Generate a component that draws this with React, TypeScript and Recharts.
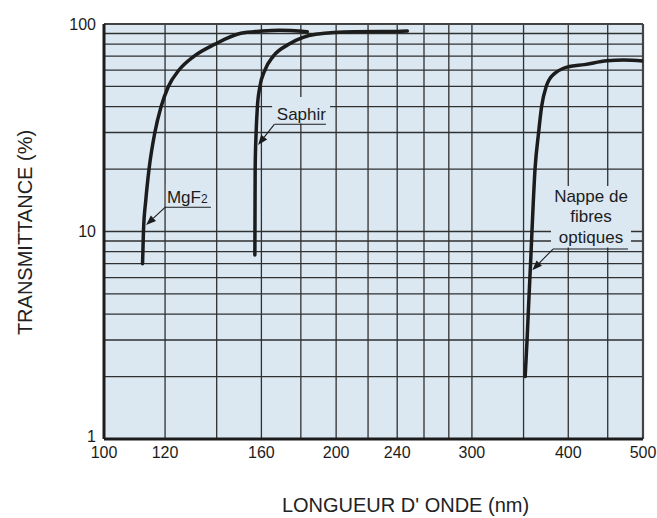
import React from 'react';
import { LineChart, Line, XAxis, YAxis, CartesianGrid, ReferenceArea, ReferenceLine } from 'recharts';

const FONT = '"Liberation Sans", Arial, Helvetica, sans-serif';
const BG = '#dbe8f2';
const INK = '#1c1c1c';
const GRID = '#303030';

// Axis ticks and grid values
const wavelengthTicks = [100, 120, 160, 200, 240, 300, 400, 500];
const transmittanceTicks = [1, 10, 100];
const gridWavelengths = [120, 140, 160, 180, 200, 220, 240, 260, 280, 300, 350, 400, 450];
const gridTransmittances = [2, 3, 4, 5, 6, 7, 8, 9, 10, 20, 30, 40, 50, 60, 70, 80, 90];

// MgF2
const mgf2Wavelength = [112.2, 112.5, 113.3, 114.4, 116.4, 118.6, 121.2, 125.1, 130.9, 139.3, 150.5, 160.6, 168.8, 183.5];
const mgf2Transmittance = [7.0, 10, 14.2, 20, 30, 40, 50, 60, 70, 80, 90.2, 92.5, 93.2, 91.8];

// Saphir
const saphirWavelength = [156.9, 156.95, 157.05, 157.5, 158.1, 159.3, 161.7, 165.8, 173.8, 188.3, 211.0, 240.0, 247.4];
const saphirTransmittance = [7.7, 10, 20, 30, 40, 50, 60, 70, 80, 89.2, 91.8, 92.1, 92.5];

// Nappe de fibres optiques
const fibreWavelength = [351.7, 353.7, 354.9, 356.7, 357.4, 358.9, 362.2, 366.1, 369.4, 374.5, 377.6, 384.1, 394.4, 400, 419.7, 449, 472, 500];
const fibreTransmittance = [2, 3, 4, 6, 7, 10, 20, 30, 40, 50, 53.7, 57.8, 61.2, 62.2, 63.7, 66.5, 67.0, 66.3];

const toPoints = (wl: number[], t: number[]) => wl.map((w, i) => ({ wl: w, t: t[i] }));
const mgf2Data = toPoints(mgf2Wavelength, mgf2Transmittance);
const saphirData = toPoints(saphirWavelength, saphirTransmittance);
const fibreData = toPoints(fibreWavelength, fibreTransmittance);

function ArrowShape(props: any) {
  const { x1, y1, x2, y2 } = props;
  if ([x1, y1, x2, y2].some((v) => typeof v !== 'number' || isNaN(v))) return <g />;
  const a = Math.atan2(y2 - y1, x2 - x1);
  const len = 10;
  const half = 3.8;
  const bx = x2 - len * Math.cos(a);
  const by = y2 - len * Math.sin(a);
  const nx = -Math.sin(a);
  const ny = Math.cos(a);
  const pts = `${x2},${y2} ${bx + half * nx},${by + half * ny} ${bx - half * nx},${by - half * ny}`;
  return (
    <g>
      <line x1={x1} y1={y1} x2={bx} y2={by} stroke={INK} strokeWidth={1.1} />
      <polygon points={pts} fill={INK} />
    </g>
  );
}

const textStyle = { fontFamily: FONT, fontSize: 17, fill: INK } as const;

const mgf2Label = (p: any) => {
  const vb = p.viewBox || {};
  return (
    <text x={vb.x + 1} y={vb.y + vb.height - 3} style={textStyle}>
      MgF<tspan fontSize={12}>2</tspan>
    </text>
  );
};

const saphirLabel = (p: any) => {
  const vb = p.viewBox || {};
  return (
    <text x={vb.x + 4.7} y={vb.y + vb.height - 3.5} style={textStyle}>
      Saphir
    </text>
  );
};

const fibreLabel = (p: any) => {
  const vb = p.viewBox || {};
  const cx = vb.x + vb.width / 2;
  return (
    <text textAnchor="middle" style={textStyle}>
      <tspan x={cx} y={vb.y + 15.7}>Nappe de</tspan>
      <tspan x={cx} y={vb.y + 36.2}>fibres</tspan>
      <tspan x={cx} y={vb.y + 56.7}>optiques</tspan>
    </text>
  );
};

const xTitle = (p: any) => {
  const vb = p.viewBox || {};
  return (
    <text x={vb.x + vb.width / 2 + 32} y={vb.y + 73} textAnchor="middle" style={{ fontFamily: FONT, fontSize: 20, fill: '#222' }}>
      LONGUEUR D' ONDE (nm)
    </text>
  );
};

const yTitle = (p: any) => {
  const vb = p.viewBox || {};
  const x = vb.x + 32;
  const y = vb.y + vb.height / 2 + 1;
  return (
    <text x={x} y={y} textAnchor="middle" transform={`rotate(-90, ${x}, ${y})`} style={{ fontFamily: FONT, fontSize: 20, fill: '#222' }}>
      TRANSMITTANCE (%)
    </text>
  );
};

const YTick = (p: any) => {
  const v = p.payload ? p.payload.value : '';
  const lift = v === 1 ? -2.5 : 0;
  return (
    <text x={p.x} y={p.y + lift} dy="0.355em" textAnchor="end" style={{ fontFamily: FONT, fontSize: 16, fill: INK }}>
      {v}
    </text>
  );
};

export default function App() {
  return (
    <div style={{ position: 'absolute', left: 0, top: 0, width: 657, height: 518, background: '#fff' }}>
      <LineChart width={657} height={518} margin={{ top: 24, right: 14, bottom: 49, left: 0 }}>
        <CartesianGrid
          fill={BG}
          fillOpacity={1}
          stroke={GRID}
          strokeWidth={1.3}
          horizontalValues={gridTransmittances}
          verticalValues={gridWavelengths}
        />
        <XAxis
          type="number"
          dataKey="wl"
          scale="log"
          domain={[100, 500]}
          allowDataOverflow
          ticks={wavelengthTicks}
          interval={0}
          tickLine={false}
          axisLine={{ stroke: INK, strokeWidth: 3 }}
          tick={{ fontFamily: FONT, fontSize: 16, fill: INK }}
          height={30}
          label={xTitle}
        />
        <YAxis
          type="number"
          dataKey="t"
          scale="log"
          domain={[1, 100]}
          allowDataOverflow
          ticks={transmittanceTicks}
          interval={0}
          tickLine={false}
          axisLine={{ stroke: INK, strokeWidth: 3 }}
          tick={<YTick />}
          width={104}
          label={yTitle}
        />
        <ReferenceLine y={100} stroke="#444" strokeWidth={2} />
        <ReferenceLine x={500} stroke="#444" strokeWidth={2.2} />

        <ReferenceArea x1={120.3} x2={138.1} y1={13.27} y2={16.75} fill={BG} fillOpacity={1} stroke="none" ifOverflow="visible" label={mgf2Label} />
        <ReferenceArea x1={165.2} x2={196.4} y1={33.15} y2={44.5} fill={BG} fillOpacity={1} stroke="none" ifOverflow="visible" label={saphirLabel} />
        <ReferenceArea x1={379.9} x2={482.4} y1={8.374} y2={16.57} fill={BG} fillOpacity={1} stroke="none" ifOverflow="visible" label={fibreLabel} />

        <ReferenceLine segment={[{ x: 120.0, y: 13.08 }, { x: 137.6, y: 13.08 }]} stroke={INK} strokeWidth={1.1} />
        <ReferenceLine segment={[{ x: 120.0, y: 13.08 }, { x: 113.4, y: 10.75 }]} shape={ArrowShape} />
        <ReferenceLine segment={[{ x: 166.3, y: 32.86 }, { x: 194.0, y: 32.86 }]} stroke={INK} strokeWidth={1.1} />
        <ReferenceLine segment={[{ x: 166.3, y: 32.86 }, { x: 158.4, y: 26.1 }]} shape={ArrowShape} />
        <ReferenceLine segment={[{ x: 382.2, y: 8.234 }, { x: 478.1, y: 8.234 }]} stroke={INK} strokeWidth={1.1} />
        <ReferenceLine segment={[{ x: 382.2, y: 8.234 }, { x: 359.2, y: 6.5 }]} shape={ArrowShape} />

        <Line data={mgf2Data} dataKey="t" type="monotone" stroke={INK} strokeWidth={3.5} strokeLinecap="round" dot={false} isAnimationActive={false} />
        <Line data={saphirData} dataKey="t" type="monotone" stroke={INK} strokeWidth={3.5} strokeLinecap="round" dot={false} isAnimationActive={false} />
        <Line data={fibreData} dataKey="t" type="monotone" stroke={INK} strokeWidth={3.5} strokeLinecap="round" dot={false} isAnimationActive={false} />
      </LineChart>
    </div>
  );
}
